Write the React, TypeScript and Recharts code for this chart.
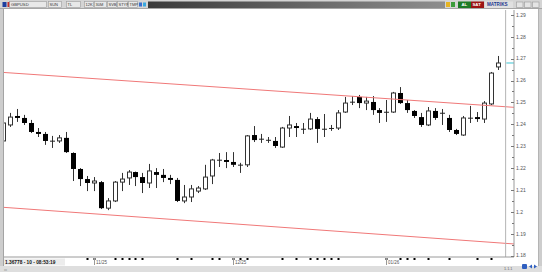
import React from "react";
import { ComposedChart, Bar, XAxis, YAxis, ReferenceLine } from "recharts";

// GBPUSD candles (left to right)
const opens = [
  1.2324, 1.2397, 1.2438, 1.2429, 1.2406, 1.2365, 1.2356, 1.2324, 1.2324, 1.2338,
  1.2269, 1.2196, 1.215, 1.2132, 1.2136, 1.2017, 1.205, 1.2136, 1.2155, 1.2182,
  1.2159, 1.2132, 1.2182, 1.2169, 1.2155, 1.2146, 1.205, 1.2068, 1.2095, 1.2105,
  1.2164, 1.2237, 1.2237, 1.2228, 1.2215, 1.2215, 1.2351, 1.2333, 1.2328, 1.2324,
  1.2296, 1.2383, 1.2392, 1.2379, 1.2379, 1.2424, 1.2379, 1.2379, 1.2383, 1.2456,
  1.2502, 1.2525, 1.2497, 1.2502, 1.2465, 1.2456, 1.2456, 1.2543, 1.2497, 1.2461,
  1.2433, 1.2397, 1.2461, 1.2452, 1.2429, 1.2374, 1.2351, 1.2429, 1.2433, 1.2424,
  1.2493, 1.2662,
];
const highs = [
  1.2415, 1.2452, 1.247, 1.2443, 1.242, 1.2383, 1.2365, 1.2347, 1.2351, 1.2365,
  1.2272, 1.22, 1.2164, 1.2159, 1.2141, 1.2063, 1.2141, 1.2178, 1.2191, 1.2184,
  1.2178, 1.2219, 1.22, 1.2196, 1.2169, 1.2155, 1.2123, 1.2123, 1.2118, 1.2215,
  1.2242, 1.2269, 1.2273, 1.2273, 1.2224, 1.2351, 1.2392, 1.2356, 1.2342, 1.2342,
  1.2388, 1.2438, 1.2406, 1.2406, 1.2452, 1.2433, 1.2447, 1.2397, 1.2465, 1.2525,
  1.2529, 1.2534, 1.2525, 1.2529, 1.2474, 1.2511, 1.2548, 1.257, 1.2511, 1.2465,
  1.2452, 1.2479, 1.2474, 1.247, 1.2443, 1.2379, 1.2438, 1.2484, 1.2456, 1.2506,
  1.2639, 1.2712,
];
const lows = [
  1.2315, 1.2388, 1.2411, 1.2397, 1.236, 1.2342, 1.2306, 1.2292, 1.2315, 1.2269,
  1.2141, 1.2118, 1.2095, 1.2095, 1.2013, 1.2008, 1.2045, 1.2095, 1.2123, 1.2118,
  1.2086, 1.2109, 1.2109, 1.2136, 1.2127, 1.2045, 1.204, 1.2045, 1.2086, 1.21,
  1.2127, 1.2205, 1.22, 1.2205, 1.2178, 1.2205, 1.2319, 1.2315, 1.2315, 1.2292,
  1.2292, 1.2342, 1.2342, 1.2356, 1.2374, 1.2315, 1.2342, 1.237, 1.2374, 1.2452,
  1.2488, 1.2474, 1.2465, 1.2443, 1.2406, 1.2411, 1.2452, 1.2493, 1.2452, 1.2429,
  1.2388, 1.2392, 1.242, 1.2397, 1.2365, 1.2351, 1.2347, 1.2406, 1.2411, 1.2406,
  1.2488, 1.2648,
];
const closes = [
  1.2406, 1.2433, 1.2429, 1.2406, 1.2365, 1.2356, 1.2324, 1.2322, 1.2338, 1.2273,
  1.2196, 1.215, 1.2132, 1.2141, 1.2017, 1.205, 1.2136, 1.215, 1.2182, 1.2159,
  1.2132, 1.2187, 1.2169, 1.2155, 1.2146, 1.205, 1.2068, 1.2105, 1.2109, 1.2159,
  1.2237, 1.2235, 1.2228, 1.2215, 1.2212, 1.2347, 1.2328, 1.2331, 1.2326, 1.2301,
  1.2383, 1.2397, 1.2383, 1.2376, 1.2424, 1.2379, 1.2376, 1.2383, 1.2452, 1.2497,
  1.25, 1.2497, 1.2506, 1.2465, 1.2452, 1.2454, 1.2543, 1.2497, 1.2465, 1.2438,
  1.2397, 1.2461, 1.2429, 1.2449, 1.2374, 1.2356, 1.2429, 1.2427, 1.2424, 1.2497,
  1.2634, 1.268,
];

// price axis ticks (labels on whole cents, small marks between)
const priceTicks = [
  1.18, 1.185, 1.19, 1.195, 1.2, 1.205, 1.21, 1.215, 1.22, 1.225, 1.23, 1.235,
  1.24, 1.245, 1.25, 1.255, 1.26, 1.265, 1.27, 1.275, 1.28, 1.285, 1.29,
];

// time axis: small dots and month labels (candle index)
const dotTicks = [12, 16, 17, 18, 19, 20, 25, 27, 30, 31, 34, 35, 40, 42, 44, 45, 46, 47, 48, 57, 58, 59, 61, 64, 68, 70];
const dateTicks = [13, 33, 55];
const dateLabels = ["11/25", "12/25", "01/26"];

// red channel lines, price at candle index channelEnds[0] / channelEnds[1]
const channelEnds = [0, 74];
const upperChannel = [1.2637, 1.2476];
const lowerChannel = [1.2021, 1.1852];

const data = opens.map((open, i) => ({
  i,
  open,
  high: highs[i],
  low: lows[i],
  close: closes[i],
  range: [lows[i], highs[i]],
}));
const lastClose = closes[closes.length - 1];

const FONT = '"Liberation Sans", Arial, sans-serif';

function Candle(props: any) {
  const { x, y, width, height, payload } = props;
  if (x == null || y == null || !payload) return null;
  const { open, close, high, low } = payload;
  const top = Math.min(y, y + height);
  const h = Math.abs(height);
  const k = h / (high - low);
  const cx = Math.round(x + width / 2) + 0.5;
  const left = cx - width / 2;
  const bTop = top + (high - Math.max(open, close)) * k;
  const bBot = top + (high - Math.min(open, close)) * k;
  const up = close >= open;
  const bh = bBot - bTop;
  return (
    <g>
      <line x1={cx} x2={cx} y1={top} y2={top + h} stroke="#333" strokeWidth={1} />
      {bh < 1.5 ? (
        <line x1={left} x2={left + width} y1={(bTop + bBot) / 2} y2={(bTop + bBot) / 2} stroke="#222" strokeWidth={1} />
      ) : up ? (
        <rect x={left + 0.5} y={bTop} width={width - 1} height={bh} fill="#fff" stroke="#333" strokeWidth={1} />
      ) : (
        <rect x={left} y={bTop} width={width} height={bh} fill="#000" />
      )}
    </g>
  );
}

function PriceTick(props: any) {
  const { x, y, payload } = props;
  const v = payload.value;
  const major = Math.abs(v * 100 - Math.round(v * 100)) < 1e-6;
  const yy = Math.round(y) + 0.5;
  return (
    <g>
      <line x1={x - (major ? 3 : 2)} x2={x} y1={yy} y2={yy} stroke="#777" />
      {major && (
        <text x={x + 2} y={y + 1.8} fontSize={5} fill="#555" fontFamily={FONT}>
          {String(Number(v.toFixed(2)))}
        </text>
      )}
    </g>
  );
}

function TimeTick(props: any) {
  const { x, y, payload } = props;
  const k = dateTicks.indexOf(payload.value);
  const xx = Math.round(x);
  if (k < 0) return <rect x={xx - 0.5} y={y + 1} width={2} height={2} fill="#000" />;
  return (
    <g>
      <rect x={xx - 0.5} y={y + 1} width={2} height={2} fill="#000" />
      <line x1={xx + 0.5} x2={xx + 0.5} y1={y + 1} y2={y + 8} stroke="#999" />
      <text x={xx + 2} y={y + 7} fontSize={4.5} fill="#555" fontFamily={FONT}>
        {dateLabels[k]}
      </text>
    </g>
  );
}

function Frame() {
  const tools = [
    { t: "SUN", x: 48, w: 13 },
    { t: "TL", x: 66, w: 14 },
    { t: "12K", x: 84, w: 9 },
    { t: "30M", x: 94, w: 12 },
    { t: "SVB", x: 107, w: 9 },
    { t: "STYP", x: 117, w: 10 },
    { t: "TMP", x: 128, w: 9 },
  ];
  return (
    <svg width={542} height={272} style={{ position: "absolute", left: 0, top: 0, pointerEvents: "none" }}>
      <defs>
        <linearGradient id="bar" x1="0" x2="1" y1="0" y2="0">
          <stop offset="0" stopColor="#3a3a3a" />
          <stop offset="1" stopColor="#8e8e8e" />
        </linearGradient>
      </defs>
      {/* title bar */}
      <rect x={0} y={0} width={542} height={9} fill="#d4d4d4" />
      <line x1={0} x2={542} y1={8.5} y2={8.5} stroke="#a6a6a6" />
      <rect x={148} y={1.5} width={297} height={6.5} fill="url(#bar)" />
      <rect x={2.5} y={2} width={4} height={5} fill="#1d3f9e" />
      <rect x={7.5} y={2} width={3} height={5} fill="#c23030" />
      <rect x={9.5} y={1.5} width={37} height={6} fill="#e8e8e8" stroke="#9c9c9c" strokeWidth={0.6} />
      <text x={11} y={6.3} fontSize={4.2} fill="#333" fontFamily={FONT}>GBPUSD</text>
      {tools.map((d) => (
        <g key={d.t}>
          <rect x={d.x + 0.5} y={1.5} width={d.w} height={6} fill="#e8e8e8" stroke="#9c9c9c" strokeWidth={0.6} />
          <text x={d.x + 1.5} y={6.3} fontSize={4} fill="#333" fontFamily={FONT}>{d.t}</text>
        </g>
      ))}
      <rect x={139} y={2.5} width={3} height={4} fill="#3a6fd0" />
      <rect x={143} y={2.5} width={3} height={4} fill="#38a8e0" />
      <rect x={446} y={2} width={4} height={5} fill="#e6b422" />
      <rect x={451} y={2} width={4} height={5} fill="#3c9c3c" />
      <rect x={458} y={1.5} width={13} height={6.5} fill="#1e7a26" />
      <text x={461.5} y={6.4} fontSize={4.3} fill="#fff" fontFamily={FONT} fontWeight="bold">AL</text>
      <rect x={471} y={1.5} width={13} height={6.5} fill="#9c1414" />
      <text x={472.5} y={6.4} fontSize={4.3} fill="#fff" fontFamily={FONT} fontWeight="bold">SAT</text>
      <rect x={485} y={1.5} width={28} height={6.5} fill="#e0e0e0" />
      <text x={487} y={6.4} fontSize={4.6} fill="#23358e" fontFamily={FONT} fontWeight="bold">MATRIKS</text>
      {[516, 524, 532].map((bx) => (
        <rect key={bx} x={bx + 0.5} y={2} width={6.5} height={5.5} fill="#e4e4e4" stroke="#9a9a9a" strokeWidth={0.6} />
      ))}
      {/* side borders */}
      <rect x={0} y={9} width={4} height={263} fill="#cdcdcd" />
      <line x1={3.5} x2={3.5} y1={9} y2={266} stroke="#a4a4a4" />
      <rect x={538} y={9} width={4} height={263} fill="#cdcdcd" />
      <line x1={538.5} x2={538.5} y1={9} y2={266} stroke="#b4b4b4" />
      {/* bottom status strip */}
      <rect x={0} y={266} width={542} height={6} fill="#dedede" />
      <rect x={4} y={258.5} width={61} height={7} fill="#ececec" />
      <text x={5} y={264} fontSize={4.8} fill="#111" fontFamily={FONT} fontWeight="bold">1.36778 - 10 - 08:53:19</text>
      <text x={4} y={270.5} fontSize={3.5} fill="#777" fontFamily={FONT}>ııı</text>
      <text x={504} y={270} fontSize={3.8} fill="#666" fontFamily={FONT}>1.1.1</text>
      <rect x={522} y={264} width={5} height={5} rx={1} fill="#2f5fc0" />
      <path d="M529 266.5 L532 264.5 L532 268.5 Z M537 266.5 L534 264.5 L534 268.5 Z" fill="#2f5fc0" />
    </svg>
  );
}

export default function App() {
  return (
    <div style={{ position: "absolute", left: 0, top: 0, width: 542, height: 272, background: "#d4d4d4", overflow: "hidden" }}>
      <div style={{ position: "absolute", left: 4, top: 9, width: 534, height: 257, background: "#fff" }} />
      <div style={{ position: "absolute", left: 0, top: 0 }}>
        <ComposedChart width={542} height={272} data={data} margin={{ top: 10, right: 0, bottom: 0, left: 4 }}>
          <XAxis
            type="number"
            dataKey="i"
            domain={[0.14, 73.3]}
            allowDataOverflow
            ticks={[...dotTicks, ...dateTicks]}
            interval={0}
            height={15}
            tickLine={false}
            tickSize={0}
            tickMargin={0}
            axisLine={{ stroke: "#9a9a9a" }}
            tick={<TimeTick />}
          />
          <YAxis
            orientation="right"
            type="number"
            domain={[1.1794, 1.2922]}
            allowDataOverflow
            ticks={priceTicks}
            interval={0}
            width={28}
            tickLine={false}
            tickSize={0}
            tickMargin={0}
            axisLine={{ stroke: "#9a9a9a" }}
            tick={<PriceTick />}
          />
          <ReferenceLine
            segment={[{ x: channelEnds[0], y: upperChannel[0] }, { x: channelEnds[1], y: upperChannel[1] }]}
            stroke="#f07878"
            ifOverflow="hidden"
          />
          <ReferenceLine
            segment={[{ x: channelEnds[0], y: lowerChannel[0] }, { x: channelEnds[1], y: lowerChannel[1] }]}
            stroke="#f07878"
            ifOverflow="hidden"
          />
          <ReferenceLine x={72.1} stroke="#b4b4b4" />
          <ReferenceLine
            segment={[{ x: 72.2, y: lastClose }, { x: 73.3, y: lastClose }]}
            stroke="#3cc4d4"
            ifOverflow="hidden"
          />
          <Bar dataKey="range" barSize={5} shape={<Candle />} isAnimationActive={false} />
        </ComposedChart>
      </div>
      <Frame />
    </div>
  );
}
